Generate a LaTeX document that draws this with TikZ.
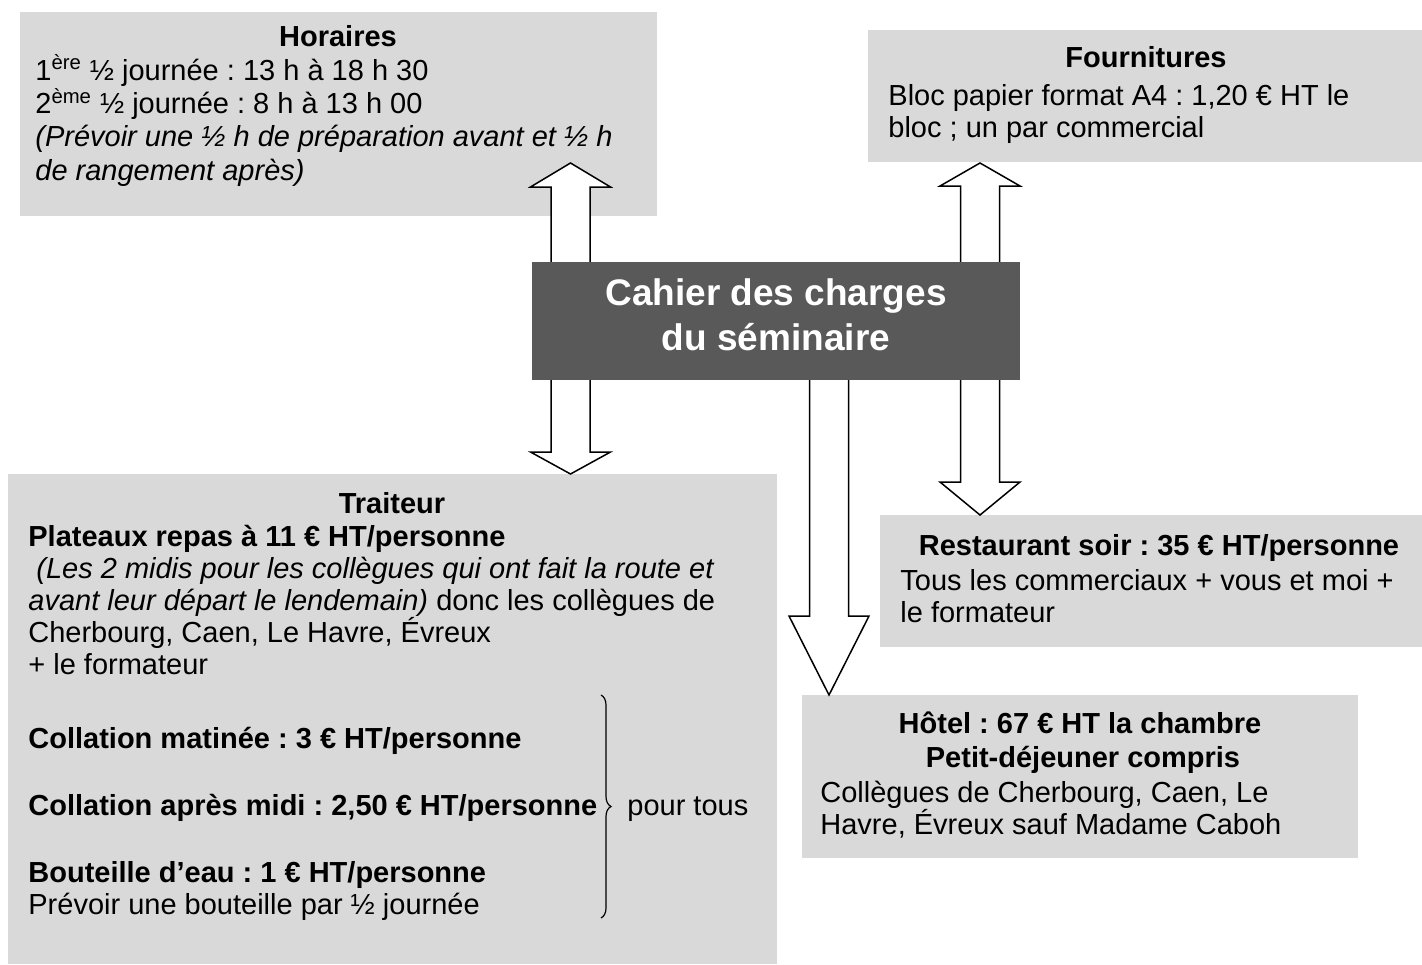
\documentclass[tikz,border=0pt]{standalone}
\usepackage{fontspec}
\setmainfont{Liberation Sans}
\usetikzlibrary{fit,decorations.pathreplacing}
\definecolor{grisclair}{HTML}{D9D9D9}
\definecolor{grisfonce}{HTML}{595959}
\frenchspacing

% fleche bloc : x, y base, y tete, y pointe
\newcommand{\flechebloc}[4]{%
  \draw[fleche] (#1-19.5,#2) -- (#1-19.5,#3) -- (#1-40,#3) -- (#1,#4)
    -- (#1+40,#3) -- (#1+19.5,#3) -- (#1+19.5,#2);}

\begin{document}
\begin{tikzpicture}
		[x=0.5pt,y=-0.5pt,
		every node/.style={inner sep=0pt,font=\fontsize{14.5}{16}\selectfont},
		boite/.style={fill=grisclair},
		titre/.style={font=\fontsize{14.5}{16}\selectfont\bfseries,anchor=base},
		corps/.style={align=left,anchor=base west},
		fleche/.style={draw=black,fill=white,line width=0.75pt,line join=miter}]
		\useasboundingbox (0,0) rectangle (1422,964);
		% cadres gris
		\coordinate (h1) at (20,12);   \coordinate (h2) at (657,216);
		\coordinate (f1) at (868,30);  \coordinate (f2) at (1422,162);
		\coordinate (t1) at (8,474);   \coordinate (t2) at (777,964);
		\coordinate (r1) at (880,515); \coordinate (r2) at (1422,647);
		\coordinate (o1) at (802,695); \coordinate (o2) at (1358,858);
		\node[boite,fit=(h1)(h2)] (horaires) {};
		\node[boite,fit=(f1)(f2)] (fournitures) {};
		\node[boite,fit=(t1)(t2)] (traiteur) {};
		\node[boite,fit=(r1)(r2)] (restaurant) {};
		\node[boite,fit=(o1)(o2)] (hotel) {};
		% Horaires (base = derniere ligne)
		\node[titre] (titreH) at (338,46) {Horaires};
		\node[corps,font=\fontsize{14.5}{16.6}\selectfont] (texteH) at (35,180)
			{1\textsuperscript{ère} ½ journée : 13 h à 18 h 30\\
			2\textsuperscript{ème} ½ journée : 8 h à 13 h 00\\
			\textit{(Prévoir une ½ h de préparation avant et ½ h}\\
			\textit{de rangement après)}};
		% Fournitures
		\node[titre] (titreF) at (1146,67) {Fournitures};
		\node[corps] (texteF) at (888,137)
			{Bloc papier format A4 : 1,20 € HT le\\
			bloc ; un par commercial};
		% Traiteur
		\node[titre] (titreT) at (392,513) {Traiteur};
		\node[corps] (texteT) at (28,674)
			{\textbf{Plateaux repas à 11 € HT/personne}\\
			\hspace*{4pt}\textit{(Les 2 midis pour les collègues qui ont fait la route et}\\
			\textit{avant leur départ le lendemain)} donc les collègues de\\
			Cherbourg, Caen, Le Havre, Évreux\\
			+ le formateur};
		\node[corps,font=\fontsize{14.5}{16}\selectfont\bfseries] (matin) at (28,748)
			{Collation matinée : 3 € HT/personne};
		\node[corps,font=\fontsize{14.5}{16}\selectfont\bfseries] (apresmidi) at (28,815)
			{Collation après midi : 2,50 € HT/personne};
		\node[corps] (eau) at (28,914)
			{\textbf{Bouteille d’eau : 1 € HT/personne}\\
			Prévoir une bouteille par ½ journée};
		\coordinate (acc1) at (601,695);
		\coordinate (acc2) at (601,918);
		\draw[decorate,decoration={brace,amplitude=5pt},line width=0.6pt] (acc1) -- (acc2);
		\node[corps] (tous) at (627,815) {pour tous};
		% Restaurant
		\node[titre] (titreR) at (1159,555) {Restaurant soir : 35 € HT/personne};
		\node[corps] (texteR) at (900,622)
			{Tous les commerciaux + vous et moi +\\
			le formateur};
		% Hotel
		\node[titre] (titreO1) at (1080,733) {Hôtel : 67 € HT la chambre};
		\node[titre] (titreO2) at (1083,767) {Petit-déjeuner compris};
		\node[corps] (texteO) at (820,834)
			{Collègues de Cherbourg, Caen, Le\\
			Havre, Évreux sauf Madame Caboh};
		% fleches
		\flechebloc{570.5}{262}{187}{163}
		\flechebloc{980}{262}{186}{163}
		\flechebloc{570.5}{380}{452}{474}
		\flechebloc{829}{380}{616}{695}
		\flechebloc{980}{380}{482}{515}
		% cadre central
		\node[fill=grisfonce,anchor=north west,minimum width=244pt,minimum height=59pt] (cdc) at (532,262) {};
		\node[text=white,align=center,font=\fontsize{18.5}{22.5}\selectfont\bfseries] (cdcT) at (776,315)
			{Cahier des charges\\du séminaire};
\end{tikzpicture}
\end{document}
